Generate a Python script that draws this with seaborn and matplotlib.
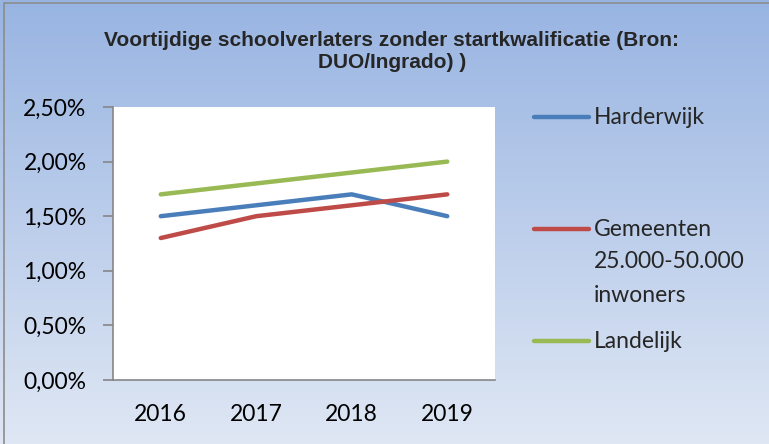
import numpy as np
import pandas as pd
import matplotlib
matplotlib.use("Agg")
import matplotlib.pyplot as plt
from matplotlib.lines import Line2D
from matplotlib.patches import Rectangle
from matplotlib.ticker import FixedLocator
import seaborn as sns

years = ["2016", "2017", "2018", "2019"]
harderwijk = [1.5, 1.6, 1.7, 1.5]
gemeenten = [1.3, 1.5, 1.6, 1.7]
landelijk = [1.7, 1.8, 1.9, 2.0]
series_names = ["Harderwijk", "Gemeenten\n25.000-50.000\ninwoners", "Landelijk"]
colors = ["#4a7ebb", "#be4b48", "#98b954"]
title = "Voortijdige schoolverlaters zonder startkwalificatie (Bron:\nDUO/Ingrado) )"

df = pd.DataFrame({
    "jaar": years * 3,
    "waarde": harderwijk + gemeenten + landelijk,
    "reeks": [n for n in series_names for _ in years],
})

sns.set_style("white")
plt.rcParams["font.family"] = ["Lato", "DejaVu Sans"]
fs = 16.5

fig = plt.figure(figsize=(7.69, 4.44), dpi=100)

# gradient background
bg = fig.add_axes([0, 0, 1, 1], zorder=-10)
grad = np.linspace(0, 1, 256).reshape(-1, 1)
top = np.array([0.596, 0.706, 0.886])
bottom = np.array([0.875, 0.906, 0.957])
img = top + (bottom - top) * grad[:, :, None]
bg.imshow(img, aspect="auto", extent=[0, 1, 0, 1])
bg.set_axis_off()
fig.add_artist(Rectangle((4 / 769, -0.1), 1.2, 1 - 3 / 444 + 0.1, transform=fig.transFigure,
                         fill=False, edgecolor="#8c8c8c", linewidth=1.2))

ax = fig.add_axes([113 / 769, 1 - 380 / 444, (495 - 113) / 769, (380 - 107) / 444])
ax.set_facecolor("white")
sns.lineplot(data=df, x="jaar", y="waarde", hue="reeks", palette=colors,
             linewidth=3.2, legend=False, ax=ax, sort=False)
ax.set_xlim(-0.5, 3.5)
ax.set_ylim(0, 2.5)
ax.set_yticks(np.arange(0, 2.51, 0.5))
ax.yaxis.set_major_formatter(lambda v, p: f"{v:.2f}%".replace(".", ","))
ax.xaxis.set_minor_locator(FixedLocator(np.arange(-0.5, 3.6, 1)))
ax.tick_params(axis="x", which="major", length=0, pad=17, labelsize=fs, labelcolor="black")
ax.tick_params(axis="x", which="minor", length=6, width=1.2, color="#868686", direction="out")
ax.tick_params(axis="y", length=7, width=1.2, color="#868686", direction="out", pad=12,
               labelsize=fs, labelcolor="black", left=True)
ax.set_xlabel("")
ax.set_ylabel("")
for s in ["top", "right"]:
    ax.spines[s].set_visible(False)
for s in ["left", "bottom"]:
    ax.spines[s].set_color("#868686")
    ax.spines[s].set_linewidth(1.2)

fig.text(392 / 769, 1 - 52 / 444, title, ha="center", va="center", fontsize=15,
         fontweight="bold", family="Liberation Sans", linespacing=1.2)

# legend
leg_y = [117, 229, 341]
for name, c, y in zip(series_names, colors, leg_y):
    fig.add_artist(Line2D([534 / 769, 589 / 769], [1 - y / 444] * 2, transform=fig.transFigure,
                          color=c, linewidth=3.2, solid_capstyle="round"))
    for i, part in enumerate(name.split("\n")):
        fig.text(594 / 769, 1 - (y + 33 * i) / 444, part, ha="left", va="center",
                 fontsize=fs)

fig.savefig("out.png", dpi=100)
